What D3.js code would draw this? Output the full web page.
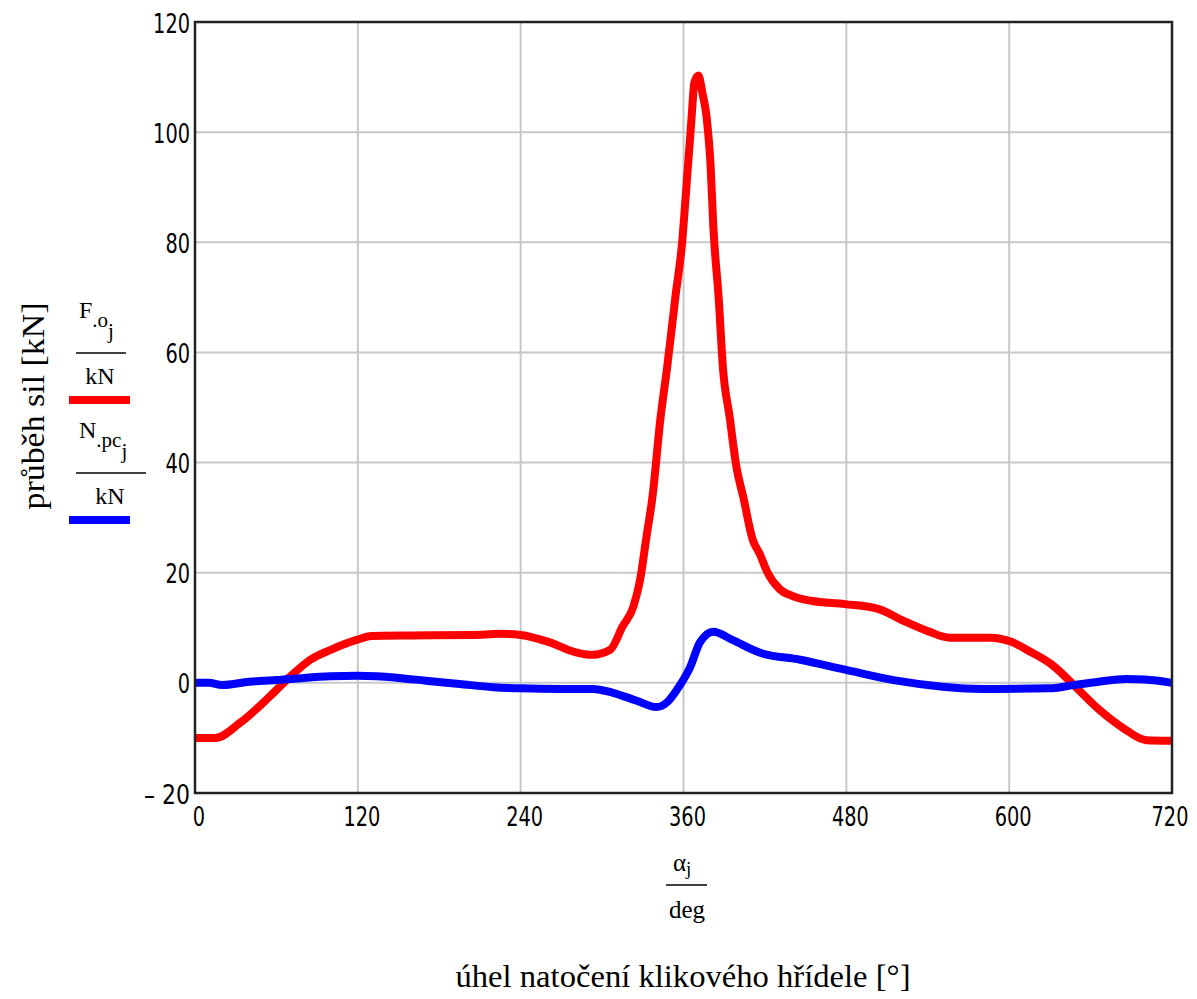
<!DOCTYPE html>
<html>
<head>
<meta charset="utf-8">
<script src="https://cdn.jsdelivr.net/npm/d3@7"></script>
<style>
  body { margin: 0; background: #fff; }
  .tick-num { font-family: "Liberation Sans Narrow", "DejaVu Sans Condensed", "Arial Narrow", sans-serif; font-size: 26px; fill: #000; }
  .serif { font-family: "Liberation Serif", "DejaVu Serif", serif; fill: #000; }
</style>
</head>
<body>
<div id="chart"></div>
<script>
// F.o (red) - force per kN vs crank angle
const fAngle = [0, 15, 33, 55, 70, 85, 100, 119, 130, 160, 205, 225, 240, 262, 280, 293, 306, 315, 323, 328, 333, 337, 343, 348, 354, 359, 362, 366, 368, 371, 374, 377, 380, 382, 386, 389, 394, 399, 404, 411, 416, 422, 431, 440, 454, 479, 504, 521, 541, 556, 586, 601, 616, 632, 648, 666, 684, 701, 720];
const fValue = [-10, -10, -7.3, -2.5, 1.1, 4.2, 6.0, 7.8, 8.5, 8.6, 8.7, 8.9, 8.7, 7.3, 5.6, 5.1, 6.0, 10.2, 13.8, 18.7, 27, 33.5, 48, 57.4, 70, 80, 89.6, 102.8, 109, 110.3, 107, 102.8, 93.7, 82.8, 69.6, 57.4, 48.3, 39.2, 33.8, 26, 23.5, 20, 17, 15.8, 14.9, 14.3, 13.4, 11.4, 9.3, 8.2, 8.2, 7.5, 5.6, 3.2, -0.5, -4.8, -8.2, -10.4, -10.5];

// N.pc (blue)
const nAngle = [0, 10, 20, 40, 60, 80, 100, 120, 134, 150, 170, 195, 220, 240, 270, 293, 308, 325, 340, 348, 355, 365, 372, 382, 396, 416, 446, 479, 517, 551, 580, 630, 645, 666, 686, 700, 720];
const nValue = [0, 0, -0.4, 0.2, 0.5, 0.9, 1.2, 1.3, 1.2, 0.9, 0.4, -0.2, -0.8, -1.0, -1.1, -1.1, -1.8, -3.2, -4.4, -3.5, -1.3, 2.9, 7.3, 9.3, 7.8, 5.5, 4.2, 2.4, 0.4, -0.7, -1.1, -1.0, -0.5, 0.2, 0.7, 0.6, 0.0];

const xTicks = [0, 120, 240, 360, 480, 600, 720];
const yTicks = [-20, 0, 20, 40, 60, 80, 100, 120];

const width = 1197, height = 999;
const margin = {left: 195, top: 22, right: 25, bottom: 206};
const plotW = width - margin.left - margin.right;
const plotH = height - margin.top - margin.bottom;

const svg = d3.select('#chart')
  .append('svg')
  .attr('width', width)
  .attr('height', height);

const x = d3.scaleLinear().domain([0, 720]).range([margin.left, margin.left + plotW]);
const y = d3.scaleLinear().domain([-20, 120]).range([margin.top + plotH, margin.top]);

// grid
svg.append('g')
  .selectAll('line.vg')
  .data(xTicks.slice(1, -1))
  .enter().append('line')
  .attr('x1', d => x(d)).attr('x2', d => x(d))
  .attr('y1', y(-20)).attr('y2', y(120))
  .attr('stroke', '#c8c8c8').attr('stroke-width', 2);

svg.append('g')
  .selectAll('line.hg')
  .data(yTicks.slice(1, -1))
  .enter().append('line')
  .attr('x1', x(0)).attr('x2', x(720))
  .attr('y1', d => y(d)).attr('y2', d => y(d))
  .attr('stroke', '#c8c8c8').attr('stroke-width', 2);

// tick labels (narrow digits, ~12px per glyph)
const yLabel = d => d < 0 ? '\u2013 ' + Math.abs(d) : String(d);
svg.append('g')
  .selectAll('text')
  .data(yTicks)
  .enter().append('text')
  .attr('class', 'tick-num')
  .attr('x', margin.left - 5)
  .attr('y', d => y(d) + 3)
  .attr('text-anchor', 'end')
  .attr('dominant-baseline', 'middle')
  .attr('textLength', d => d < 0 ? 46 : yLabel(d).length * 12.3)
  .attr('lengthAdjust', 'spacingAndGlyphs')
  .text(yLabel);

svg.append('g')
  .selectAll('text')
  .data(xTicks)
  .enter().append('text')
  .attr('class', 'tick-num')
  .attr('x', d => x(d) + (d === 720 ? -2 : 4))
  .attr('y', y(-20) + 33)
  .attr('text-anchor', 'middle')
  .attr('textLength', d => String(d).length * 12.3)
  .attr('lengthAdjust', 'spacingAndGlyphs')
  .text(d => d);

// lines
const line = d3.line()
  .curve(d3.curveMonotoneX)
  .x(d => x(d[0]))
  .y(d => y(d[1]));

svg.append('path')
  .datum(d3.zip(fAngle, fValue))
  .attr('d', line)
  .attr('fill', 'none')
  .attr('stroke', '#ff0000')
  .attr('stroke-width', 8);

svg.append('path')
  .datum(d3.zip(nAngle, nValue))
  .attr('d', line)
  .attr('fill', 'none')
  .attr('stroke', '#0000ff')
  .attr('stroke-width', 8);

// frame
svg.append('rect')
  .attr('x', x(0)).attr('y', y(120))
  .attr('width', plotW).attr('height', plotH)
  .attr('fill', 'none')
  .attr('stroke', '#222')
  .attr('stroke-width', 2.5);

// y title
svg.append('text')
  .attr('class', 'serif')
  .attr('transform', 'translate(44,406) rotate(-90)')
  .attr('text-anchor', 'middle')
  .attr('textLength', 207)
  .attr('lengthAdjust', 'spacingAndGlyphs')
  .style('font-size', '31px')
  .text('průběh sil [kN]');

// legend entries
function fracLegend(g, main, sub, cx, top, lineW, color, colorY) {
  const t = g.append('text').attr('class', 'serif').attr('x', 79).attr('y', top).style('font-size', '24px');
  t.append('tspan').text(main);
  t.append('tspan').attr('dy', 9).style('font-size', '21px').text(sub);
  t.append('tspan').attr('dy', 11).style('font-size', '21px').text('j');
  g.append('line')
    .attr('x1', 76).attr('x2', 76 + lineW)
    .attr('y1', top + 35).attr('y2', top + 35)
    .attr('stroke', '#000').attr('stroke-width', 1.5);
  g.append('text').attr('class', 'serif')
    .attr('x', cx).attr('y', top + 66)
    .attr('text-anchor', 'middle')
    .style('font-size', '24px')
    .text('kN');
  g.append('line')
    .attr('x1', 69).attr('x2', 130)
    .attr('y1', colorY).attr('y2', colorY)
    .attr('stroke', color).attr('stroke-width', 8);
}

const leg = svg.append('g');
fracLegend(leg, 'F', '.o', 100, 318, 50, '#ff0000', 400);
fracLegend(leg, 'N', '.pc', 110, 438, 70, '#0000ff', 520);

// x title fraction
const xt = svg.append('text').attr('class', 'serif')
  .attr('x', 673).attr('y', 871)
  .style('font-size', '25px');
xt.append('tspan').text('\u03b1');
xt.append('tspan').attr('dy', 4).style('font-size', '19px').text('j');

svg.append('line')
  .attr('x1', 666).attr('x2', 707)
  .attr('y1', 885).attr('y2', 885)
  .attr('stroke', '#000').attr('stroke-width', 1.5);

svg.append('text').attr('class', 'serif')
  .attr('x', 687).attr('y', 918)
  .attr('text-anchor', 'middle')
  .style('font-size', '25px')
  .text('deg');

svg.append('text').attr('class', 'serif')
  .attr('x', 683).attr('y', 987)
  .attr('text-anchor', 'middle')
  .attr('textLength', 455)
  .attr('lengthAdjust', 'spacingAndGlyphs')
  .style('font-size', '31px')
  .text('úhel natočení klikového hřídele [°]');
</script>
</body>
</html>
